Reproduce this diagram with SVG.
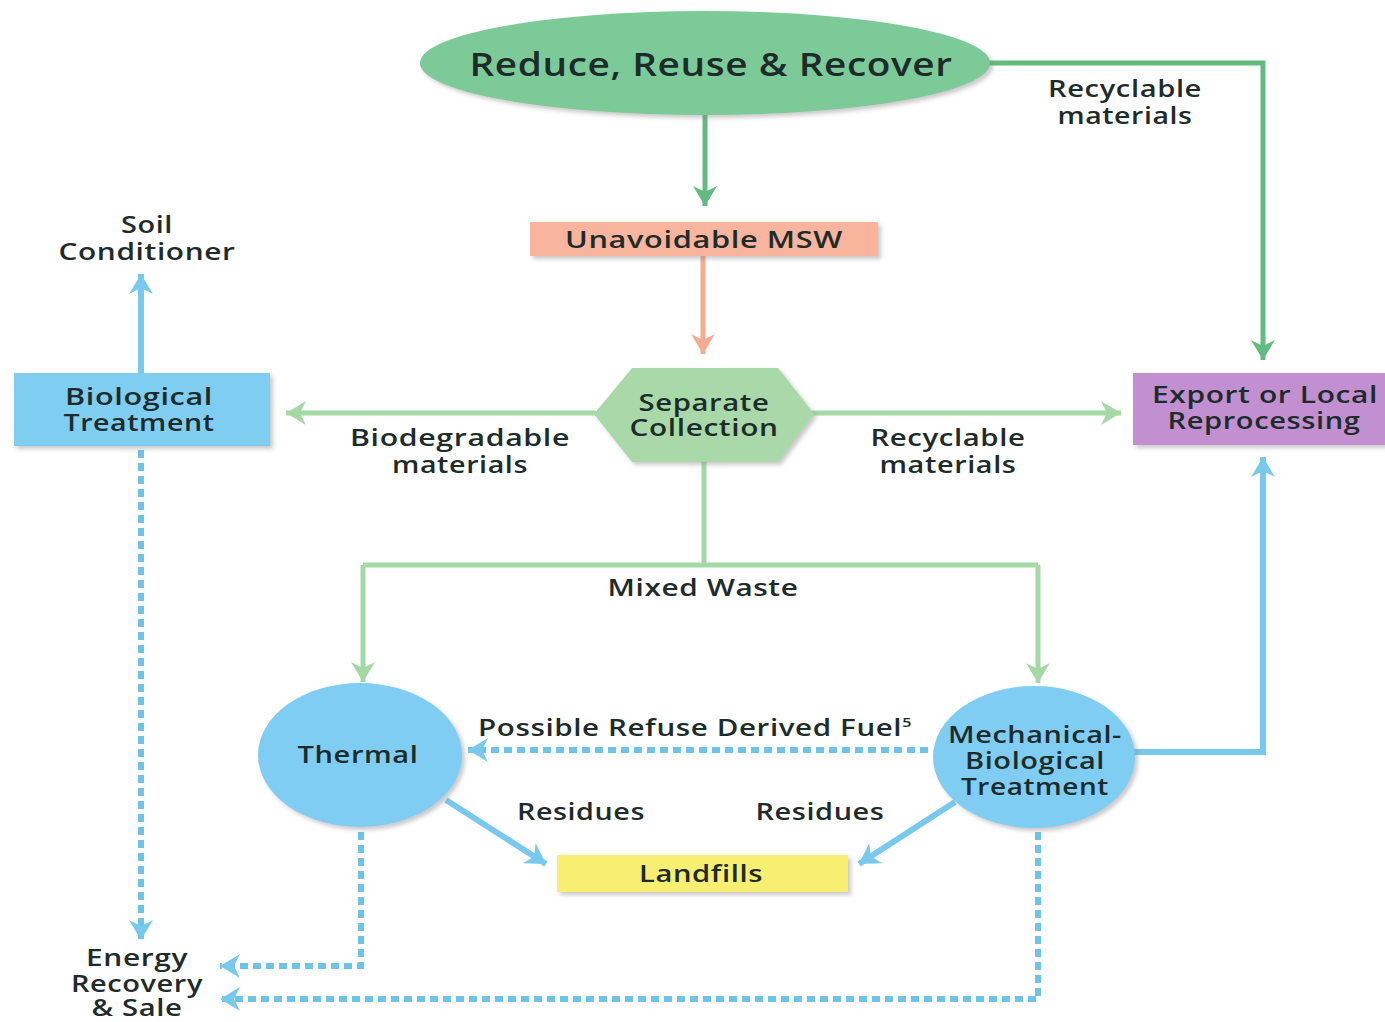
<svg xmlns="http://www.w3.org/2000/svg" width="1385" height="1022" viewBox="0 0 1385 1022">
<style>
text{font-family:"Open Sans","Noto Sans","DejaVu Sans",sans-serif;fill:#1d2b2b;text-anchor:middle;font-size:24px;font-weight:600;letter-spacing:0.5px}
.big{font-size:32px}
.dg{stroke:#62bb7f;stroke-width:5;fill:none}
.lg{stroke:#a4d8a4;stroke-width:5;fill:none}
.sa{stroke:#f5ab8f;stroke-width:5;fill:none}
.bl{stroke:#78c9ee;stroke-width:6;fill:none}
.bd{stroke:#6fc3e6;stroke-width:6;fill:none;stroke-dasharray:8 5}
</style>
<defs>
<filter id="sh" x="-10%" y="-10%" width="125%" height="130%"><feDropShadow dx="3" dy="3" stdDeviation="2" flood-color="#888" flood-opacity="0.45"/></filter>
<marker id="adg" markerUnits="userSpaceOnUse" markerWidth="30" markerHeight="30" refX="20" refY="12" orient="auto"><path d="M0,0 L20,12 L0,24 L6,12 Z" fill="#62bb7f"/></marker>
<marker id="alg" markerUnits="userSpaceOnUse" markerWidth="30" markerHeight="30" refX="20" refY="12" orient="auto"><path d="M0,0 L20,12 L0,24 L6,12 Z" fill="#a4d8a4"/></marker>
<marker id="asa" markerUnits="userSpaceOnUse" markerWidth="30" markerHeight="30" refX="20" refY="12" orient="auto"><path d="M0,0 L20,12 L0,24 L6,12 Z" fill="#f5ab8f"/></marker>
<marker id="abl" markerUnits="userSpaceOnUse" markerWidth="30" markerHeight="30" refX="20" refY="12" orient="auto"><path d="M0,0 L20,12 L0,24 L6,12 Z" fill="#78c9ee"/></marker>
</defs>
<rect width="1385" height="1022" fill="#ffffff"/>
<g id="connectors">
<path class="dg" d="M705,115 V206" marker-end="url(#adg)"/>
<path class="dg" d="M988,63 H1263 V360" marker-end="url(#adg)"/>
<path class="sa" d="M703,256 V354" marker-end="url(#asa)"/>
<path class="lg" d="M596,413 H286" marker-end="url(#alg)"/>
<path class="lg" d="M812,413 H1121" marker-end="url(#alg)"/>
<path class="lg" d="M704,462 V565 M363,565 H1038"/>
<path class="lg" d="M363,565 V682" marker-end="url(#alg)"/>
<path class="lg" d="M1038,565 V683" marker-end="url(#alg)"/>
<path class="bl" d="M141,373 V274" marker-end="url(#abl)"/>
<path class="bl" d="M1133,752 H1263 V457" marker-end="url(#abl)"/>
<path class="bl" d="M446,800 L546,864" marker-end="url(#abl)"/>
<path class="bl" d="M955,802 L859,864" marker-end="url(#abl)"/>
<path class="bd" d="M928,750 H468" marker-end="url(#abl)"/>
<path class="bd" d="M141,450 V940" marker-end="url(#abl)"/>
<path class="bd" d="M361,832 V966 H220" marker-end="url(#abl)"/>
<path class="bd" d="M1038,832 V999 H220" marker-end="url(#abl)"/>
</g>
<g id="reduce">
<ellipse cx="705" cy="63" rx="285" ry="52" fill="#7cca98" filter="url(#sh)"/>
<text class="big" x="711" y="76" textLength="483" lengthAdjust="spacingAndGlyphs">Reduce, Reuse &amp; Recover</text>
</g>
<g id="label-recyclable-top">
<text x="1125" y="97" textLength="154" lengthAdjust="spacingAndGlyphs">Recyclable</text>
<text x="1125" y="124" textLength="135" lengthAdjust="spacingAndGlyphs">materials</text>
</g>
<g id="unavoidable">
<rect x="530" y="222" width="348" height="34" fill="#f8b49c" filter="url(#sh)"/>
<text x="704" y="248" textLength="278" lengthAdjust="spacingAndGlyphs">Unavoidable MSW</text>
</g>
<g id="separate">
<polygon points="594,414 632,368 778,368 814,414 778,462 632,462" fill="#a9d9a9" filter="url(#sh)"/>
<text x="704" y="411" textLength="131" lengthAdjust="spacingAndGlyphs">Separate</text>
<text x="704" y="436" textLength="149" lengthAdjust="spacingAndGlyphs">Collection</text>
</g>
<g id="label-biodegradable">
<text x="460" y="446" textLength="220" lengthAdjust="spacingAndGlyphs">Biodegradable</text>
<text x="460" y="473" textLength="136" lengthAdjust="spacingAndGlyphs">materials</text>
</g>
<g id="label-recyclable">
<text x="948" y="446" textLength="155" lengthAdjust="spacingAndGlyphs">Recyclable</text>
<text x="948" y="473" textLength="137" lengthAdjust="spacingAndGlyphs">materials</text>
</g>
<g id="biological">
<rect x="14" y="373" width="256" height="73" fill="#7fcdf0" filter="url(#sh)"/>
<text x="139" y="405" textLength="148" lengthAdjust="spacingAndGlyphs">Biological</text>
<text x="139" y="431" textLength="151" lengthAdjust="spacingAndGlyphs">Treatment</text>
</g>
<g id="soil">
<text x="147" y="233" textLength="52" lengthAdjust="spacingAndGlyphs">Soil</text>
<text x="147" y="260" textLength="177" lengthAdjust="spacingAndGlyphs">Conditioner</text>
</g>
<g id="export">
<rect x="1133" y="373" width="252" height="72" fill="#c290d0" filter="url(#sh)"/>
<text x="1265" y="403" textLength="226" lengthAdjust="spacingAndGlyphs">Export or Local</text>
<text x="1264" y="429" textLength="193" lengthAdjust="spacingAndGlyphs">Reprocessing</text>
</g>
<g id="label-mixed">
<text x="703" y="596" textLength="191" lengthAdjust="spacingAndGlyphs">Mixed Waste</text>
</g>
<g id="thermal">
<ellipse cx="360" cy="755" rx="102" ry="72" fill="#7fcdf2" filter="url(#sh)"/>
<text x="358" y="763" textLength="121" lengthAdjust="spacingAndGlyphs">Thermal</text>
</g>
<g id="mbt">
<ellipse cx="1034" cy="757" rx="101" ry="71" fill="#7fcdf2" filter="url(#sh)"/>
<text x="1035" y="743" textLength="174" lengthAdjust="spacingAndGlyphs">Mechanical-</text>
<text x="1035" y="769" textLength="140" lengthAdjust="spacingAndGlyphs">Biological</text>
<text x="1035" y="795" textLength="148" lengthAdjust="spacingAndGlyphs">Treatment</text>
</g>
<g id="label-rdf">
<text x="695" y="736" textLength="434" lengthAdjust="spacingAndGlyphs">Possible Refuse Derived Fuel<tspan font-size="13" dy="-9">5</tspan></text>
</g>
<g id="label-residues">
<text x="581" y="820" textLength="128" lengthAdjust="spacingAndGlyphs">Residues</text>
<text x="820" y="820" textLength="129" lengthAdjust="spacingAndGlyphs">Residues</text>
</g>
<g id="landfills">
<rect x="557" y="855" width="291" height="37" fill="#f8ee72" filter="url(#sh)"/>
<text x="701" y="882" textLength="124" lengthAdjust="spacingAndGlyphs">Landfills</text>
</g>
<g id="energy">
<text x="137" y="966" textLength="102" lengthAdjust="spacingAndGlyphs">Energy</text>
<text x="137" y="992" textLength="132" lengthAdjust="spacingAndGlyphs">Recovery</text>
<text x="137" y="1016" textLength="91" lengthAdjust="spacingAndGlyphs">&amp; Sale</text>
</g>
</svg>
